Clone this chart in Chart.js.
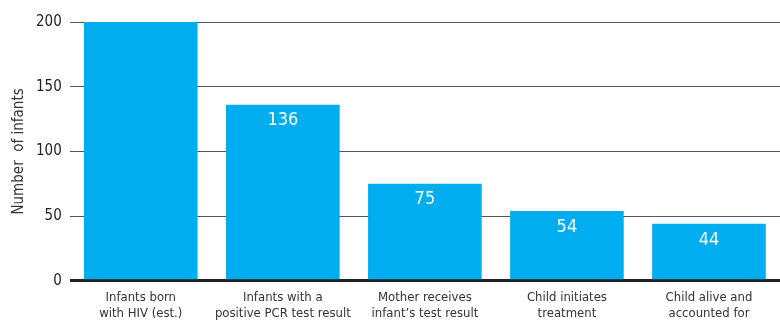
<!DOCTYPE html>
<html>
<head>
<meta charset="utf-8">
<script src="https://cdn.jsdelivr.net/npm/chart.js@4"></script>
<style>
  html, body { margin: 0; padding: 0; background: #fff; }
  #wrap { width: 780px; height: 325px; }
</style>
</head>
<body>
<div id="wrap"><canvas id="c"></canvas></div>
<script>
const categories = [
  ["Infants born", "with HIV (est.)"],
  ["Infants with a", "positive PCR test result"],
  ["Mother receives", "infant\u2019s test result"],
  ["Child initiates", "treatment"],
  ["Child alive and", "accounted for"]
];
const infants = [200, 136, 75, 54, 44];
const showValue = [false, true, true, true, true];
const yTicks = [0, 50, 100, 150, 200];

const FONT = "'Liberation Sans Narrow', 'DejaVu Sans Condensed', 'Roboto Condensed', sans-serif";

// Writes each bar's value in white just inside its top edge
const valueLabels = {
  id: 'valueLabels',
  afterDatasetsDraw(chart) {
    const ctx = chart.ctx;
    const meta = chart.getDatasetMeta(0);
    ctx.save();
    ctx.fillStyle = '#ffffff';
    ctx.font = '18px ' + FONT;
    ctx.textAlign = 'center';
    ctx.textBaseline = 'middle';
    meta.data.forEach((bar, i) => {
      if (!showValue[i]) return;
      ctx.fillText(String(infants[i]), bar.x, bar.y + 16);
    });
    ctx.restore();
  }
};

new Chart(document.getElementById('c'), {
  type: 'bar',
  data: {
    labels: categories,
    datasets: [{
      data: infants,
      backgroundColor: '#00adee',
      borderWidth: 0,
      categoryPercentage: 0.8,
      barPercentage: 1.0
    }]
  },
  options: {
    responsive: true,
    maintainAspectRatio: false,
    animation: false,
    layout: { padding: { top: 22, right: 0, bottom: 3, left: 2 } },
    plugins: { legend: { display: false }, tooltip: { enabled: false } },
    scales: {
      x: {
        grid: { display: false },
        border: { display: false },
        ticks: {
          color: '#333',
          font: { family: FONT, size: 13, lineHeight: 1.2 },
          padding: 1,
          autoSkip: false,
          maxRotation: 0
        }
      },
      y: {
        min: 0,
        max: 200,
        afterBuildTicks(axis) { axis.ticks = yTicks.map(v => ({ value: v })); },
        border: { display: false },
        grid: {
          drawTicks: false,
          color: c => c.tick.value === 0 ? '#222' : '#555',
          lineWidth: c => c.tick.value === 0 ? 3 : 1
        },
        ticks: {
          color: '#222',
          font: { family: FONT, size: 15 },
          padding: 8
        },
        title: {
          display: true,
          text: 'Number  of infants',
          color: '#333',
          font: { family: FONT, size: 15 },
          padding: { top: 8, bottom: 0 }
        }
      }
    }
  },
  plugins: [valueLabels]
});
</script>
</body>
</html>
